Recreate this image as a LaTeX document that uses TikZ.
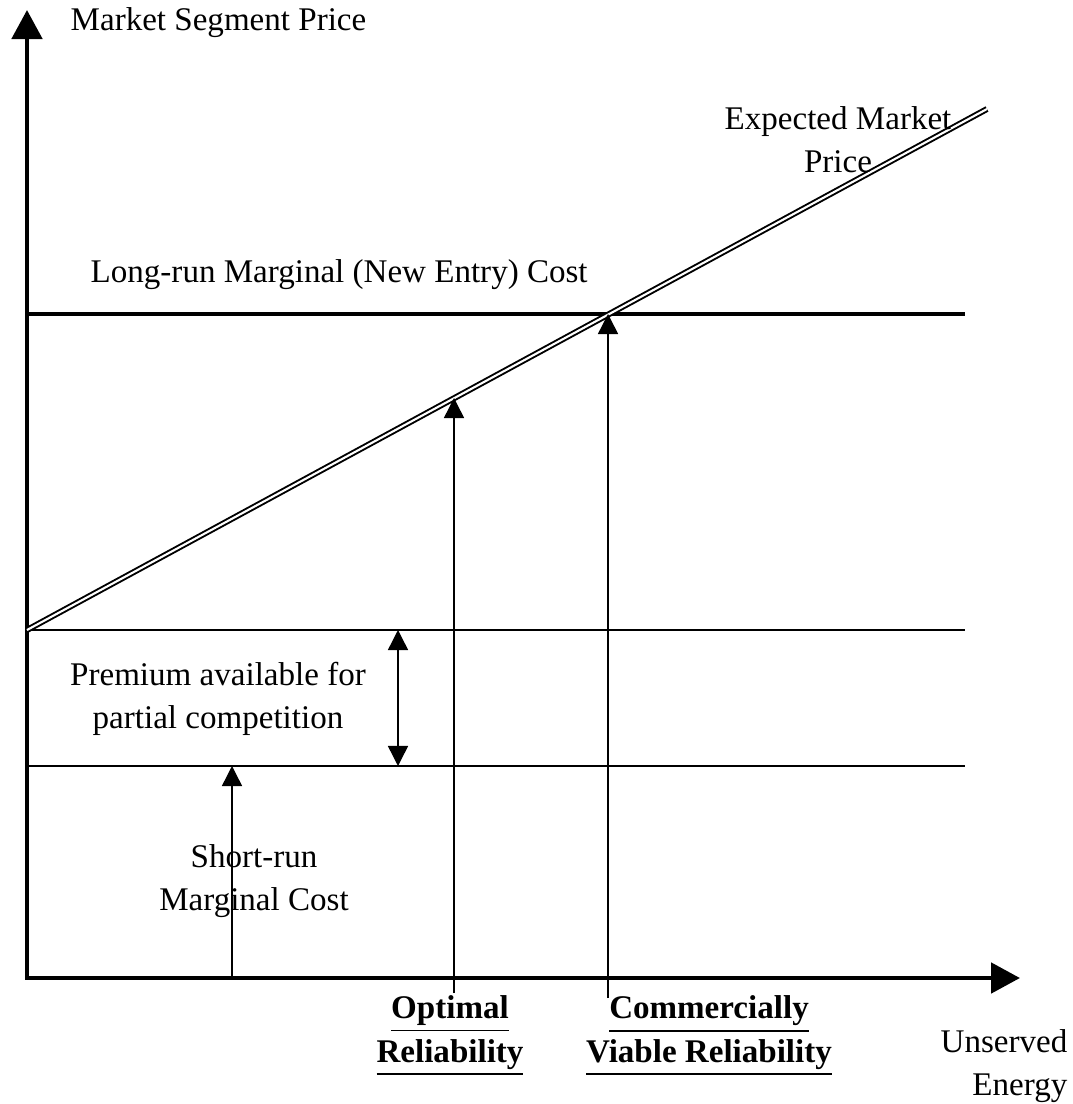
\documentclass[tikz,border=0pt]{standalone}
\usepackage{fontspec}
\setmainfont{Liberation Serif}
\usetikzlibrary{arrows.meta}

\newcommand{\ulbf}[1]{\underline{\textbf{#1}}}

\tikzset{
    axisline/.style={line width=1.4pt, line cap=rect, -{Triangle[length=0.29cm, width=0.3cm]}},
    costline/.style={line width=1.3pt},
    levelline/.style={line width=0.75pt},
    priceline/.style={double, line width=0.55pt, double distance=0.6pt},
    pointer/.style={line width=0.4pt, -{Triangle[length=0.2cm, width=0.2cm]}},
    span/.style={line width=0.4pt, {Triangle[length=0.2cm, width=0.2cm]}-{Triangle[length=0.2cm, width=0.2cm]}},
    txt/.style={align=center, inner sep=0pt, font=\fontsize{9.4}{12.3}\selectfont}
}

\begin{document}
\begin{tikzpicture}[x=0.01cm, y=-0.01cm]

    \useasboundingbox (0,0) rectangle (1072,1104);

    % Axes
    \coordinate (O) at (27,978);
    \coordinate (ytip) at (27,10);
    \coordinate (xtip) at (1020,978);
    \draw[axisline] (O) -- (ytip);
    \draw[axisline] (O) -- (xtip);

    % Cost levels
    \coordinate (lr0) at (27,314);
    \coordinate (lr1) at (965,314);
    \coordinate (pr0) at (27,630);
    \coordinate (pr1) at (965,630);
    \coordinate (sr0) at (27,766);
    \coordinate (sr1) at (965,766);
    \draw[costline] (lr0) -- (lr1);
    \draw[levelline] (pr0) -- (pr1);
    \draw[levelline] (sr0) -- (sr1);

    % Expected market price
    \coordinate (mp1) at (987,109);
    \draw[priceline] (pr0) -- (mp1);

    % Reliability pointers
    \coordinate (optbot) at (454,993);
    \coordinate (opttop) at (454,398);
    \coordinate (cvbot) at (608,998);
    \coordinate (cvtop) at (608,314);
    \coordinate (srbot) at (232,978);
    \coordinate (srtop) at (232,766);
    \draw[pointer] (optbot) -- (opttop);
    \draw[pointer] (cvbot) -- (cvtop);
    \draw[pointer] (srbot) -- (srtop);

    % Premium span
    \coordinate (pma) at (398,630);
    \coordinate (pmb) at (398,766);
    \draw[span] (pma) -- (pmb);

    % Labels
    \node[txt, anchor=west] (ylab) at (70,23) {Market Segment Price};
    \node[txt] (mplab) at (838,140) {Expected Market\\Price};
    \node[txt, anchor=west] (lrlab) at (90,275) {Long-run Marginal (New Entry) Cost};
    \node[txt] (pmlab) at (218,699) {Premium available for\\partial competition};
    \node[txt] (srlab) at (254,881) {Short-run\\Marginal Cost};
    \node[txt] (optlab) at (450,1036) {\ulbf{Optimal}\\\ulbf{Reliability}};
    \node[txt] (cvlab) at (709,1036) {\ulbf{Commercially}\\\ulbf{Viable Reliability}};
    \node[txt, align=right, anchor=east] (xlab) at (1068,1066) {Unserved\\Energy};

\end{tikzpicture}
\end{document}
